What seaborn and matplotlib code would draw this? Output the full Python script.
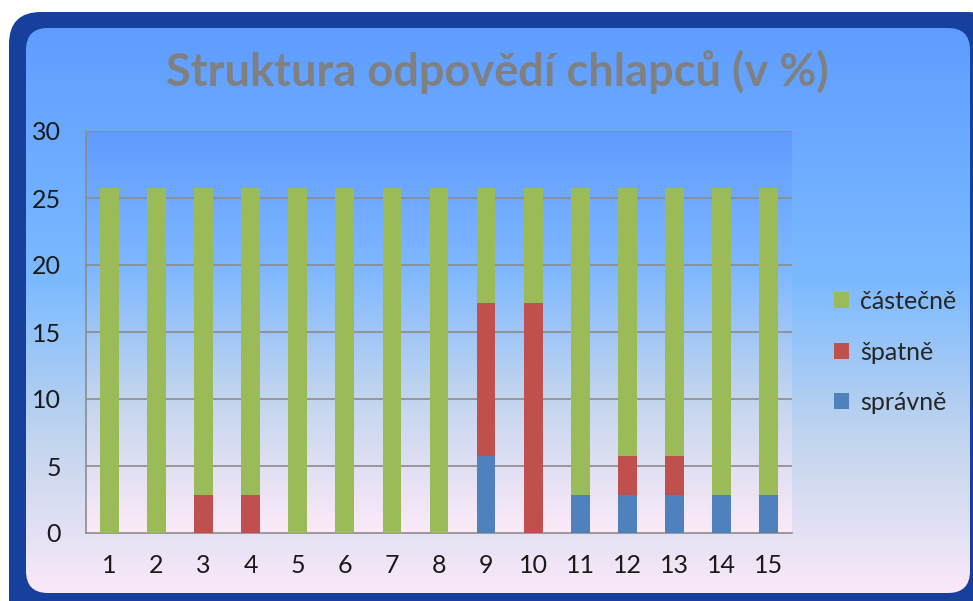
import numpy as np
import matplotlib
matplotlib.use("Agg")
import matplotlib.pyplot as plt
from matplotlib.patches import FancyBboxPatch, Patch
import seaborn as sns

# data (percent)
categories = [str(i) for i in range(1, 16)]
spravne = [0, 0, 0, 0, 0, 0, 0, 0, 5.71, 0, 2.86, 2.86, 2.86, 2.86, 2.86]
spatne = [0, 0, 2.86, 2.86, 0, 0, 0, 0, 11.43, 17.14, 0, 2.86, 2.86, 0, 0]
castecne = [25.71, 25.71, 22.86, 22.86, 25.71, 25.71, 25.71, 25.71, 8.57, 8.57,
            22.86, 20.0, 20.0, 22.86, 22.86]
series_names = ["částečně", "špatně", "správně"]
y_ticks = [0, 5, 10, 15, 20, 25, 30]

GREEN = "#9bbb59"
RED = "#c0504d"
BLUE = "#4f81bd"
FONT = ["Lato", "DejaVu Sans"]

sns.set_theme(style="white")
plt.rcParams["font.family"] = FONT

W, H = 973, 601
fig = plt.figure(figsize=(W / 100, H / 100), dpi=100)


def vgradient(stops, n=256):
    pos = np.array([s[0] for s in stops])
    cols = np.array([s[1] for s in stops], dtype=float) / 255
    t = np.linspace(0, 1, n)
    img = np.stack([np.interp(t, pos, cols[:, k]) for k in range(3)], axis=1)
    return img[:, None, :]


# background panel with frame
bg = fig.add_axes([0, 0, 1, 1])
bg.set_xlim(0, W)
bg.set_ylim(H, 0)
bg.axis("off")
outer = FancyBboxPatch((9, 12), 990, 620, boxstyle="round,pad=0,rounding_size=32",
                       fc="#17409c", ec="none", zorder=0)
bg.add_patch(outer)
inner = FancyBboxPatch((26, 28), 944, 565, boxstyle="round,pad=0,rounding_size=22",
                       fc="none", ec="none", zorder=1)
bg.add_patch(inner)
panel = bg.imshow(vgradient([(0, (94, 157, 255)), (0.45, (124, 186, 255)),
                             (0.72, (192, 212, 238)), (1, (250, 233, 248))]),
                  extent=[26, 970, 593, 28], aspect="auto", zorder=1)
panel.set_clip_path(inner)

# plot area
ax = fig.add_axes([86 / W, 1 - 533 / H, 706 / W, 402 / H])
ax.set_facecolor("none")
ax.imshow(vgradient([(0, (96, 156, 255)), (0.35, (128, 184, 255)),
                     (0.65, (192, 212, 238)), (1, (252, 234, 248))]),
          extent=[-0.5, 14.5, 0, 30], aspect="auto", zorder=0)

totals = [a + b + c for a, b, c in zip(spravne, spatne, castecne)]
lower = [a + b for a, b in zip(spravne, spatne)]
for vals, col in [(totals, GREEN), (lower, RED), (spravne, BLUE)]:
    sns.barplot(x=categories, y=vals, color=col, width=0.4, saturation=1,
                linewidth=0, edgecolor="none", ax=ax, zorder=3)

ax.set_xlim(-0.5, 14.5)
ax.set_ylim(0, 30)
ax.set_yticks(y_ticks)
for y in y_ticks[1:]:
    ax.axhline(y, color="#8c8c8c", lw=1.2, zorder=2)
for s in ["top", "right"]:
    ax.spines[s].set_visible(False)
for s in ["left", "bottom"]:
    ax.spines[s].set_color("#8c8c8c")
    ax.spines[s].set_linewidth(1.2)
ax.set_xticks(np.arange(15))
ax.set_xticklabels(categories)
ax.set_xticks(np.arange(-0.5, 15, 1), minor=True)
ax.tick_params(axis="x", which="major", length=0, pad=15, labelsize=18, labelcolor="#1a1a1a")
ax.tick_params(axis="x", which="minor", length=8, width=1.2, color="#8c8c8c", direction="out")
ax.tick_params(axis="y", length=8, width=1.2, color="#8c8c8c", direction="out",
               pad=10, labelsize=18, labelcolor="#1a1a1a")
ax.set_xlabel("")
ax.set_ylabel("")

fig.text(497 / W, 1 - 72 / H, "Struktura odpovědí chlapců (v %)", ha="center", va="center",
         fontsize=32.5, fontweight="bold", color="#808080", family=FONT)

handles = [Patch(fc=GREEN, ec="none"), Patch(fc=RED, ec="none"), Patch(fc=BLUE, ec="none")]
fig.legend(handles, series_names, loc="center left", bbox_to_anchor=(834 / W, 1 - 352 / H),
           frameon=False, fontsize=18, handlelength=0.6, handleheight=0.6,
           handletextpad=0.45, labelspacing=1.1, borderaxespad=0, borderpad=0)

fig.savefig("out.png", dpi=100)
